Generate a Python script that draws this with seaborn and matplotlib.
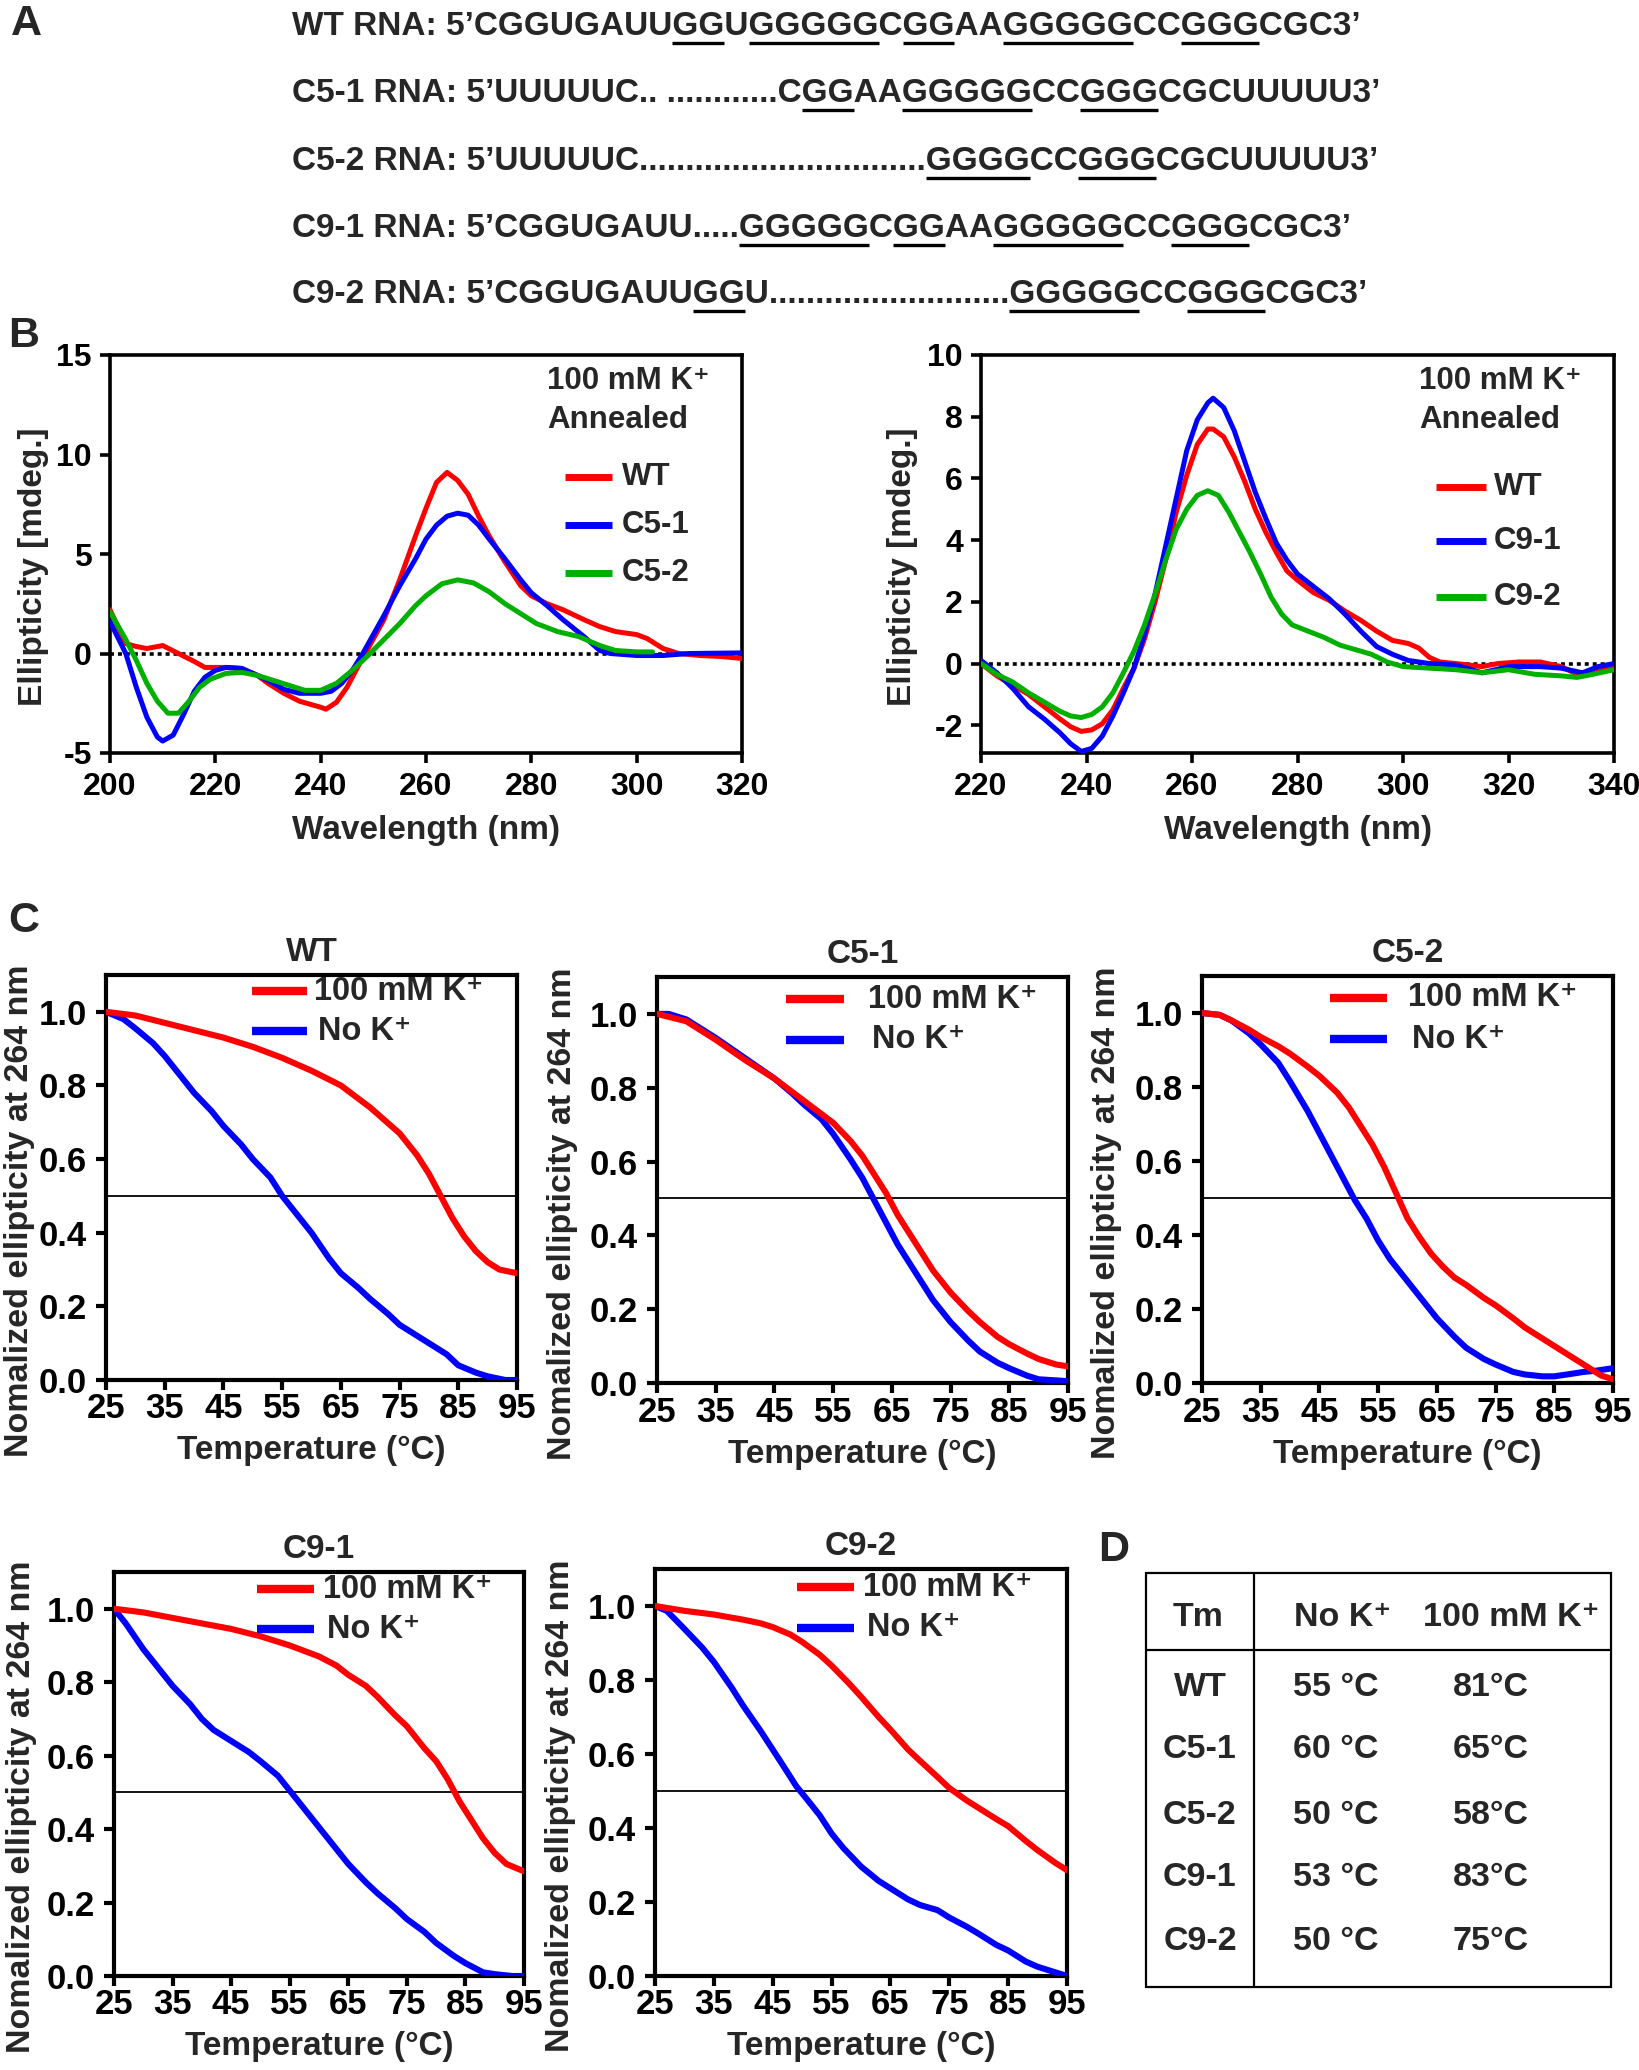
import numpy as np
import pandas as pd
import matplotlib
matplotlib.use('Agg')
import matplotlib.pyplot as plt
from matplotlib.lines import Line2D
from matplotlib.patches import Rectangle
import seaborn as sns

sns.set_theme(style='ticks')
plt.rcParams['font.family'] = ['Liberation Sans', 'DejaVu Sans']
plt.rcParams['font.weight'] = 'bold'
plt.rcParams['axes.labelweight'] = 'bold'
plt.rcParams['axes.titleweight'] = 'bold'
plt.rcParams['axes.unicode_minus'] = False

RED, BLUE, GREEN = '#ff0000', '#0000ff', '#00b000'

# ---------------- Panel A: sequences ([..] = underlined) ----------------
seq_names = ['WT RNA: ', 'C5-1 RNA: ', 'C5-2 RNA: ', 'C9-1 RNA: ', 'C9-2 RNA: ']
seq_marked = [
    "5’CGGUGAUU[GG]U[GGGGG]C[GG]AA[GGGGG]CC[GGG]CGC3’",
    "5’UUUUUC.. ............C[GG]AA[GGGGG]CC[GGG]CGCUUUUU3’",
    "5’UUUUUC...............................[GGGG]CC[GGG]CGCUUUUU3’",
    "5’CGGUGAUU.....[GGGGG]C[GG]AA[GGGGG]CC[GGG]CGC3’",
    "5’CGGUGAUU[GG]U..........................[GGGGG]CC[GGG]CGC3’",
]

# ---------------- Panel B: CD spectra ----------------
b1_wt_x = [200, 203, 205, 207, 210, 213, 216, 218, 222, 225, 228, 230, 233, 236, 240,
           241, 243, 245, 247, 249, 252, 255, 258, 260, 262, 264, 266, 268, 270, 272,
           275, 278, 280, 283, 286, 290, 293, 296, 300, 302, 305, 308, 312, 316, 320]
b1_wt_y = [2.2, 0.5, 0.35, 0.25, 0.4, 0.0, -0.4, -0.7, -0.7, -0.75, -1.1, -1.5, -2.0, -2.4, -2.7,
           -2.8, -2.45, -1.7, -0.7, 0.25, 1.7, 3.7, 5.9, 7.3, 8.6, 9.1, 8.7, 8.0, 6.9, 5.9,
           4.6, 3.4, 2.9, 2.5, 2.2, 1.7, 1.35, 1.1, 0.95, 0.75, 0.25, 0.0, -0.1, -0.15, -0.25]
b1_c51_x = [200, 203, 205, 207, 209, 210, 212, 214, 216, 218, 220, 222, 225, 228, 230,
            233, 236, 240, 242, 244, 246, 248, 250, 252, 255, 258, 260, 262, 264, 266,
            268, 270, 272, 275, 278, 280, 283, 286, 290, 293, 295, 300, 305, 310, 320]
b1_c51_y = [1.6, 0.0, -1.7, -3.2, -4.2, -4.4, -4.1, -3.05, -1.9, -1.2, -0.85, -0.7, -0.75, -1.1, -1.35,
            -1.8, -2.0, -2.0, -1.9, -1.5, -0.85, 0.0, 0.95, 1.9, 3.4, 4.75, 5.75, 6.45, 6.9, 7.05,
            6.95, 6.45, 5.75, 4.75, 3.7, 3.05, 2.4, 1.7, 0.85, 0.15, 0.0, -0.1, -0.1, 0.0, 0.03]
b1_c52_x = [200, 203, 205, 207, 209, 211, 213, 215, 217, 219, 222, 225, 228, 231, 234,
            237, 240, 243, 246, 249, 252, 255, 258, 260, 263, 266, 269, 272, 275, 278,
            281, 285, 289, 293, 296, 300, 303]
b1_c52_y = [2.1, 0.7, -0.35, -1.5, -2.4, -3.0, -3.0, -2.4, -1.7, -1.3, -1.0, -0.95, -1.1, -1.35, -1.6,
            -1.85, -1.85, -1.5, -0.85, -0.1, 0.7, 1.5, 2.4, 2.9, 3.5, 3.7, 3.55, 3.1, 2.5, 2.0,
            1.5, 1.1, 0.85, 0.4, 0.15, 0.08, 0.08]

b2_wt_x = [220, 223, 226, 229, 232, 235, 237, 239, 241, 243, 245, 247, 249, 251, 253, 255,
           257, 259, 261, 263, 264, 266, 268, 270, 272, 274, 276, 278, 280, 283, 286, 289,
           292, 295, 298, 301, 303, 305, 307, 310, 315, 318, 322, 326, 330, 333, 336, 340]
b2_wt_y = [0.0, -0.4, -0.7, -1.0, -1.4, -1.8, -2.05, -2.2, -2.15, -1.95, -1.5, -0.8, -0.15, 0.8, 2.0, 3.35,
           4.9, 6.1, 7.1, 7.6, 7.6, 7.35, 6.7, 5.9, 5.0, 4.25, 3.6, 3.0, 2.7, 2.3, 2.05, 1.7,
           1.4, 1.05, 0.75, 0.65, 0.5, 0.2, 0.05, 0.0, -0.1, 0.0, 0.05, 0.05, -0.1, -0.35, -0.25, -0.05]
b2_c91_x = [220, 223, 226, 229, 232, 235, 237, 239, 241, 243, 245, 247, 249, 251, 253,
            255, 257, 259, 261, 263, 264, 266, 268, 270, 272, 274, 276, 278, 280, 283,
            286, 289, 292, 295, 298, 301, 305, 310, 315, 320, 326, 330, 334, 337, 340]
b2_c91_y = [0.1, -0.3, -0.8, -1.4, -1.8, -2.25, -2.6, -2.85, -2.75, -2.35, -1.7, -0.95, -0.15, 0.95, 2.25,
            3.8, 5.35, 6.9, 7.9, 8.45, 8.6, 8.3, 7.55, 6.55, 5.55, 4.7, 3.9, 3.35, 2.9, 2.5,
            2.1, 1.6, 1.05, 0.55, 0.3, 0.1, 0.0, -0.05, -0.3, -0.1, -0.1, -0.15, -0.3, -0.1, 0.0]
b2_c92_x = [220, 223, 226, 229, 232, 235, 237, 239, 241, 243, 245, 247, 249, 251, 253,
            255, 257, 259, 261, 263, 265, 267, 269, 271, 273, 275, 277, 279, 282, 285,
            288, 291, 294, 297, 300, 305, 310, 315, 320, 325, 330, 333, 336, 340]
b2_c92_y = [0.0, -0.35, -0.6, -0.95, -1.25, -1.55, -1.7, -1.75, -1.65, -1.4, -0.95, -0.3, 0.4, 1.25, 2.25,
            3.35, 4.35, 5.0, 5.45, 5.6, 5.45, 4.9, 4.25, 3.6, 2.9, 2.15, 1.6, 1.25, 1.05, 0.85,
            0.6, 0.45, 0.3, 0.05, -0.1, -0.15, -0.2, -0.3, -0.2, -0.35, -0.4, -0.45, -0.35, -0.2]

# ---------------- Panel C: melting curves ----------------
wt_k_t = [25, 30, 35, 40, 45, 50, 55, 60, 65, 70, 75, 78, 80, 82, 84, 86, 88, 90, 92, 95]
wt_k_v = [1.0, 0.99, 0.97, 0.95, 0.93, 0.905, 0.875, 0.84, 0.80, 0.74, 0.67, 0.61, 0.56, 0.50,
          0.44, 0.39, 0.35, 0.32, 0.30, 0.29]
wt_n_t = [25, 28, 30, 33, 35, 38, 40, 43, 45, 48, 50, 53, 55, 58, 60, 63, 65, 68, 70, 73,
          75, 78, 80, 83, 85, 88, 90, 93, 95]
wt_n_v = [1.0, 0.98, 0.955, 0.915, 0.88, 0.82, 0.78, 0.73, 0.69, 0.64, 0.60, 0.55, 0.50, 0.44,
          0.40, 0.33, 0.29, 0.25, 0.22, 0.18, 0.15, 0.12, 0.10, 0.07, 0.04, 0.02, 0.01, 0.0, 0.0]
c51_k_t = [25, 30, 35, 40, 45, 50, 55, 58, 60, 62, 64, 66, 68, 70, 72, 75, 78, 80, 83, 85, 88, 90, 93, 95]
c51_k_v = [1.0, 0.98, 0.93, 0.875, 0.825, 0.765, 0.705, 0.655, 0.615, 0.565, 0.515, 0.455, 0.405,
           0.355, 0.305, 0.245, 0.195, 0.165, 0.125, 0.105, 0.08, 0.065, 0.05, 0.045]
c51_n_t = [25, 27, 30, 35, 40, 45, 48, 50, 53, 55, 58, 60, 62, 64, 66, 68, 70, 72, 75, 78,
           80, 83, 85, 88, 90, 95]
c51_n_v = [1.0, 1.0, 0.985, 0.935, 0.88, 0.825, 0.785, 0.755, 0.715, 0.675, 0.605, 0.555, 0.495,
           0.435, 0.375, 0.325, 0.275, 0.225, 0.165, 0.115, 0.085, 0.055, 0.04, 0.02, 0.01, 0.005]
c52_k_t = [25, 28, 30, 33, 35, 38, 40, 43, 45, 48, 50, 52, 54, 56, 58, 60, 62, 64, 66, 68,
           70, 73, 75, 78, 80, 83, 85, 88, 90, 93, 95]
c52_k_v = [1.0, 0.995, 0.98, 0.955, 0.935, 0.91, 0.89, 0.855, 0.83, 0.785, 0.745, 0.695, 0.645,
           0.585, 0.515, 0.445, 0.395, 0.35, 0.315, 0.285, 0.265, 0.23, 0.21, 0.175, 0.15, 0.12,
           0.10, 0.07, 0.05, 0.02, 0.01]
c52_n_t = [25, 28, 30, 33, 35, 38, 40, 43, 45, 47, 49, 51, 53, 55, 57, 60, 63, 65, 68, 70,
           73, 75, 78, 80, 83, 85, 88, 90, 92, 95]
c52_n_v = [1.0, 0.995, 0.98, 0.945, 0.915, 0.865, 0.815, 0.735, 0.675, 0.615, 0.555, 0.495, 0.445,
           0.385, 0.335, 0.275, 0.215, 0.175, 0.125, 0.095, 0.065, 0.05, 0.03, 0.023, 0.018, 0.018,
           0.025, 0.03, 0.033, 0.04]
c91_k_t = [25, 30, 35, 40, 45, 50, 55, 60, 63, 65, 68, 70, 73, 75, 78, 80, 82, 84, 86, 88, 90, 92, 95]
c91_k_v = [1.0, 0.99, 0.975, 0.96, 0.945, 0.925, 0.90, 0.87, 0.845, 0.82, 0.79, 0.76, 0.71, 0.68,
           0.62, 0.585, 0.535, 0.475, 0.425, 0.375, 0.335, 0.305, 0.285]
c91_n_t = [25, 27, 30, 33, 35, 38, 40, 42, 45, 48, 50, 53, 55, 58, 60, 63, 65, 68, 70, 73,
           75, 78, 80, 83, 85, 88, 90, 93, 95]
c91_n_v = [1.0, 0.96, 0.89, 0.83, 0.79, 0.74, 0.70, 0.67, 0.64, 0.61, 0.585, 0.545, 0.505, 0.445,
           0.405, 0.345, 0.305, 0.255, 0.225, 0.185, 0.155, 0.12, 0.09, 0.055, 0.035, 0.01, 0.005,
           0.0, 0.0]
c92_k_t = [25, 30, 35, 40, 43, 45, 48, 50, 53, 55, 58, 60, 63, 65, 68, 70, 73, 75, 78, 80,
           83, 85, 88, 90, 93, 95]
c92_k_v = [1.0, 0.987, 0.977, 0.963, 0.953, 0.943, 0.923, 0.903, 0.868, 0.839, 0.79, 0.755, 0.70,
           0.666, 0.612, 0.582, 0.538, 0.508, 0.474, 0.454, 0.424, 0.405, 0.365, 0.34, 0.306, 0.286]
c92_n_t = [25, 27, 30, 33, 35, 38, 40, 43, 45, 47, 49, 51, 53, 55, 57, 60, 63, 65, 68, 70,
           73, 75, 78, 80, 83, 85, 88, 90, 93, 95]
c92_n_v = [1.0, 0.987, 0.938, 0.888, 0.849, 0.78, 0.73, 0.661, 0.612, 0.563, 0.513, 0.474, 0.434,
           0.385, 0.346, 0.296, 0.257, 0.237, 0.207, 0.192, 0.178, 0.158, 0.133, 0.114, 0.084,
           0.069, 0.039, 0.025, 0.01, 0.0]

# ---------------- Panel D: Tm table ----------------
tm_header = ['Tm', 'No K⁺', '100 mM K⁺']
tm_rows = ['WT', 'C5-1', 'C5-2', 'C9-1', 'C9-2']
tm_no_k = ['55 °C', '60 °C', '50 °C', '53 °C', '50 °C']
tm_100k = ['81°C', '65°C', '58°C', '83°C', '75°C']

# ---------------- figure helpers (pixel coordinates, origin top-left) ----------------
W, H = 1639, 2070
fig = plt.figure(figsize=(W / 100, H / 100), dpi=100)


def fx(x):
    return x / W


def fy(y):
    return 1 - y / H


def px_axes(left, top, right, bottom):
    return fig.add_axes([fx(left), fy(bottom), (right - left) / W, (bottom - top) / H])


def fig_text(x, y, s, size, ha='left', va='center'):
    return fig.text(fx(x), fy(y), s, fontsize=size, fontweight='bold', ha=ha, va=va)


def fig_line(x0, x1, y0, y1, color='black', lw=1.5, **kw):
    fig.add_artist(Line2D([fx(x0), fx(x1)], [fy(y0), fy(y1)], transform=fig.transFigure,
                          color=color, lw=lw, solid_capstyle='butt', **kw))


def style_axes(ax, tick_size, xpad, ypad, spine_w=2.6):
    for sp in ax.spines.values():
        sp.set_visible(True)
        sp.set_linewidth(spine_w)
        sp.set_color('black')
    ax.tick_params(direction='out', length=7, width=spine_w, colors='black', labelsize=tick_size)
    ax.tick_params(axis='x', pad=xpad)
    ax.tick_params(axis='y', pad=ypad)
    for lab in ax.get_xticklabels() + ax.get_yticklabels():
        lab.set_fontweight('bold')
    ax.set_facecolor('white')


def place_labels(ax, rect, xlabel, ylabel, xl_dy, yl_dx, yl_frac, lsize_x, lsize_y):
    left, top, right, bottom = rect
    w, h = right - left, bottom - top
    ax.set_xlabel(xlabel, fontsize=lsize_x, fontweight='bold')
    ax.set_ylabel(ylabel, fontsize=lsize_y, fontweight='bold')
    ax.xaxis.set_label_coords(0.5, -xl_dy / h)
    ax.yaxis.set_label_coords(yl_dx / w, yl_frac)
    ax.xaxis.label.set_va('center')
    ax.yaxis.label.set_va('center')
    ax.yaxis.label.set_ha('center')


# ---------------- Panel A ----------------
renderer = fig.canvas.get_renderer()
seq_x = 292
seq_base = [35, 102, 170, 237, 303]
for name, marked, yb in zip(seq_names, seq_marked, seq_base):
    plain, spans, start = '', [], 0
    for ch in marked:
        if ch == '[':
            start = len(plain)
        elif ch == ']':
            spans.append((start, len(plain)))
        else:
            plain += ch
    full = name + plain
    t = fig_text(seq_x, yb, full, 24, va='baseline')
    prop = t.get_fontproperties()

    def width(s):
        return renderer.get_text_width_height_descent(s, prop, ismath=False)[0]

    for s0, s1 in spans:
        s0 += len(name)
        s1 += len(name)
        x0 = seq_x + width(full[:s0 + 1]) - width(full[s0])
        x1 = seq_x + width(full[:s1])
        fig_line(x0, x1, yb + 8, yb + 8, lw=2.4)

# ---------------- Panel B ----------------
b_panels = [
    dict(rect=(110, 355, 742, 753), xlim=(200, 320), ylim=(-5, 15), yticks=[-5, 0, 5, 10, 15],
         xticks=list(range(200, 321, 20)),
         series=[('WT', b1_wt_x, b1_wt_y, RED), ('C5-1', b1_c51_x, b1_c51_y, BLUE),
                 ('C5-2', b1_c52_x, b1_c52_y, GREEN)],
         note_x=547, leg_x=(565, 612, 622), leg_y=[477, 525, 573], yl_dx=-76),
    dict(rect=(981, 355, 1614, 753), xlim=(220, 340), ylim=(-2.9, 10), yticks=[-2, 0, 2, 4, 6, 8, 10],
         xticks=list(range(220, 341, 20)),
         series=[('WT', b2_wt_x, b2_wt_y, RED), ('C9-1', b2_c91_x, b2_c91_y, BLUE),
                 ('C9-2', b2_c92_x, b2_c92_y, GREEN)],
         note_x=1419, leg_x=(1436, 1486, 1494), leg_y=[487, 541, 597], yl_dx=-79),
]
for p in b_panels:
    ax = px_axes(*p['rect'])
    ax.axhline(0, color='black', lw=2.6, ls=(0, (1.1, 1.1)), zorder=1)
    for name, xs, ys, col in p['series']:
        df = pd.DataFrame({'Wavelength': xs, 'Ellipticity': ys})
        sns.lineplot(data=df, x='Wavelength', y='Ellipticity', ax=ax, color=col, lw=3.6,
                     estimator=None, legend=False, zorder=3)
    ax.set_xlim(*p['xlim'])
    ax.set_ylim(*p['ylim'])
    ax.set_xticks(p['xticks'])
    ax.set_yticks(p['yticks'])
    style_axes(ax, 23, 7, 6)
    place_labels(ax, p['rect'], 'Wavelength (nm)', 'Ellipticity [mdeg.]', 77, p['yl_dx'], 0.467, 24, 24)
    fig_text(p['note_x'], 381, '100 mM K⁺', 22.5)
    fig_text(p['note_x'], 420, 'Annealed', 22.5)
    lx0, lx1, tx = p['leg_x']
    for (name, _, _, col), yy in zip(p['series'], p['leg_y']):
        fig_line(lx0, lx1, yy, yy, color=col, lw=5)
        fig_text(tx, yy, name, 22.5)

# ---------------- Panel C ----------------
c_panels = [
    dict(title='WT', rect=(106, 975, 517, 1380), k=(wt_k_t, wt_k_v), n=(wt_n_t, wt_n_v),
         leg=(252, 307, 314, 991, 1031), yl_dx=-86),
    dict(title='C5-1', rect=(657, 977, 1068, 1383), k=(c51_k_t, c51_k_v), n=(c51_n_t, c51_n_v),
         leg=(786, 844, 868, 999, 1040), yl_dx=-94),
    dict(title='C5-2', rect=(1202, 976, 1613, 1383), k=(c52_k_t, c52_k_v), n=(c52_n_t, c52_n_v),
         leg=(1330, 1387, 1408, 998, 1039), yl_dx=-96),
    dict(title='C9-1', rect=(114, 1572, 524, 1976), k=(c91_k_t, c91_k_v), n=(c91_n_t, c91_n_v),
         leg=(257, 314, 323, 1589, 1629), yl_dx=-92),
    dict(title='C9-2', rect=(655, 1569, 1067, 1976), k=(c92_k_t, c92_k_v), n=(c92_n_t, c92_n_v),
         leg=(797, 854, 863, 1587, 1628), yl_dx=-95),
]
for p in c_panels:
    ax = px_axes(*p['rect'])
    ax.axhline(0.5, color='black', lw=1.3, zorder=1)
    for (ts, vs), col in ((p['n'], BLUE), (p['k'], RED)):
        df = pd.DataFrame({'Temperature': ts, 'Norm': vs})
        sns.lineplot(data=df, x='Temperature', y='Norm', ax=ax, color=col, lw=4.4,
                     estimator=None, legend=False, zorder=3)
    ax.set_xlim(25, 95)
    ax.set_ylim(0, 1.1)
    ax.set_xticks(list(range(25, 96, 10)))
    ax.set_yticks([0.0, 0.2, 0.4, 0.6, 0.8, 1.0])
    ax.set_yticklabels(['0.0', '0.2', '0.4', '0.6', '0.8', '1.0'])
    style_axes(ax, 25, 2, 7, spine_w=3.0)
    ax.set_title(p['title'], fontsize=24, fontweight='bold', pad=10)
    place_labels(ax, p['rect'], 'Temperature (°C)', 'Nomalized ellipticity at 264 nm',
                 71, p['yl_dx'], 0.418, 24, 24.5)
    lx0, lx1, tx, yk, yn = p['leg']
    fig_line(lx0, lx1, yk, yk, color=RED, lw=6)
    fig_line(lx0, lx1, yn, yn, color=BLUE, lw=6)
    fig_text(tx, yk, '100 mM K⁺', 23.5)
    fig_text(tx + 4, yn, 'No K⁺', 23.5)

# ---------------- Panel D ----------------
fig.add_artist(Rectangle((fx(1146), fy(1987)), (1611 - 1146) / W, (1987 - 1573) / H,
                         transform=fig.transFigure, fill=False, ec='black', lw=1.6))
fig_line(1254, 1254, 1573, 1987, lw=1.6)
fig_line(1146, 1611, 1650, 1650, lw=1.6)
fig_text(1198, 1618, tm_header[0], 24.5, ha='center')
fig_text(1343, 1618, tm_header[1], 24.5, ha='center')
fig_text(1511, 1618, tm_header[2], 24.5, ha='center')
row_y = [1688, 1750, 1815, 1877, 1942]
for name, a, b, yy in zip(tm_rows, tm_no_k, tm_100k, row_y):
    fig_text(1200, yy, name, 24.5, ha='center')
    fig_text(1336, yy, a, 24.5, ha='center')
    fig_text(1491, yy, b, 24.5, ha='center')

# ---------------- panel letters ----------------
fig_text(26, 24, 'A', 31, ha='center')
fig_text(24, 336, 'B', 31, ha='center')
fig_text(24, 921, 'C', 31, ha='center')
fig_text(1114, 1550, 'D', 31, ha='center')

fig.savefig('out.png', dpi=100, facecolor='white')
